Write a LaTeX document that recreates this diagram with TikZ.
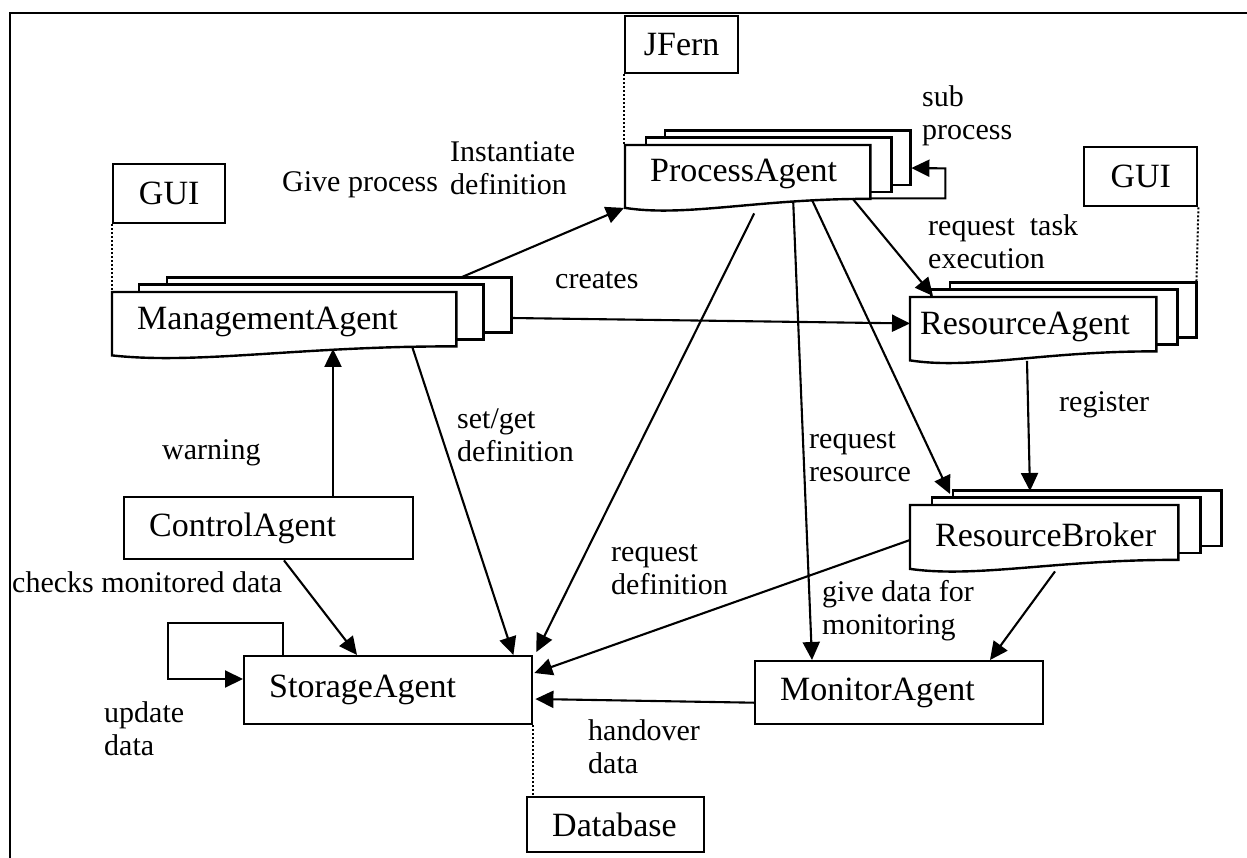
\documentclass[tikz,border=0pt]{standalone}
\usepackage{fontspec}
\setmainfont{Liberation Serif}
\usetikzlibrary{arrows.meta,calc,backgrounds}
\newcommand\nfont{\fontsize{34}{38}\selectfont}
\newcommand\lfont{\fontsize{30}{33}\selectfont}
\tikzset{
  boxline/.style={line width=2.4pt, line join=miter},
  agent/.style={anchor=north west, inner xsep=25pt, inner ysep=0pt, align=left, font=\nfont},
  plainbox/.style={agent, draw, boxline},
  cbox/.style={anchor=north west, draw, boxline, inner sep=0pt, align=center, font=\nfont},
  lbl/.style={anchor=west, align=left, font=\lfont, inner sep=0pt},
  arr/.style={line width=2.1pt, -{Triangle[length=18pt,width=17pt]}},
  dots/.style={line width=2pt, dotted},
}
\newcommand\docstack[3]{%
  \draw[boxline,fill=white] ($(#1.north west)+(#3,-14.5)$) rectangle ($(#1.south east)+(#3,-18.5)$);
  \draw[boxline,fill=white] ($(#1.north west)+(#2,-7.5)$) rectangle ($(#1.south east)+(#2,-11.5)$);
  \draw[boxline,fill=white] (#1.north west) -- (#1.north east) -- ($(#1.south east)+(0,-4.5)$)
    .. controls ($(#1.south west)!0.55!(#1.south east)+(0,-5)$) and ($(#1.south west)!0.25!(#1.south east)+(0,14)$) .. ($(#1.south west)+(0,4.5)$) -- cycle;
}
\begin{document}
\begin{tikzpicture}[x=1pt,y=-1pt]
\useasboundingbox (0,0) rectangle (1247,858);
\draw[line width=2.2pt] (1247,13) -- (10,13) -- (10,858);

% agents with stacked document shapes
\node[agent, minimum height=58.5pt, text width=294pt] (MA) at (112,292) {ManagementAgent};
\node[agent, minimum height=58pt, text width=195pt] (PA) at (625,145) {ProcessAgent};
\node[agent, inner xsep=10pt, minimum height=58.5pt, text width=226pt] (RA) at (910,297) {ResourceAgent};
\node[agent, minimum height=59pt, text width=218pt] (RB) at (910,505) {ResourceBroker};
\begin{pgfonlayer}{background}
  \docstack{MA}{27}{55}
  \docstack{PA}{21}{40}
  \docstack{RA}{21}{40}
  \docstack{RB}{22}{43}
\end{pgfonlayer}

% plain agents
\node[plainbox, minimum height=62pt, text width=239pt] (CA) at (123,496) {ControlAgent};
\node[plainbox, minimum height=68pt, text width=238pt] (SA) at (243,655) {StorageAgent};
\node[plainbox, minimum height=63pt, text width=238pt] (MoA) at (754,660) {MonitorAgent};
\node[plainbox, minimum height=55pt, text width=127pt] (DB) at (526,796) {Database};
\node[cbox, minimum width=112pt, minimum height=59pt] (G1) at (112,163) {GUI};
\node[cbox, minimum width=113pt, minimum height=59pt] (G2) at (1083,146) {GUI};
\node[cbox, minimum width=113pt, minimum height=57pt] (JF) at (624,15) {JFern};

% dotted attachments
\draw[dots] (JF.south west) -- (JF.south west |- PA.north);
\draw[dots] (G1.south west) -- (G1.south west |- MA.north);
\draw[dots] (G2.south east) -- ($(RA.north east)+(40,-14)$);
\draw[dots] (SA.south east) -- (SA.south east |- DB.north);

% connectors
\draw[arr] ($(MA.north west)+(350,-15)$) -- ($(PA.south west)+(-1,4.5)$);
\draw[arr] ($(MA.north east)+(55,26)$) -- ($(RA.west)+(0,-3)$);
\draw[arr] ($(PA.south east)+(-18,-5)$) -- ($(RA.north west)+(23,-1)$);
\draw[arr] ($(PA.south)+(64.5,-3)$) -- ($(RB.north west)+(40,-11)$);
\draw[arr] ($(PA.south)+(45.5,-2)$) -- ($(MoA.north west)+(58,0)$);
\draw[arr] ($(PA.south)+(6.5,10)$) -- ($(SA.north east)+(3,-3)$);
\draw[arr] ($(MA.south east)+(-44,-3.5)$) -- ($(SA.north east)+(-20,0)$);
\draw[arr] ($(CA.north west)+(210,0)$) -- ($(MA.south west)+(221,-2)$);
\draw[arr] ($(CA.south west)+(161,0)$) -- ($(SA.north west)+(114,0)$);
\draw[arr] ($(SA.north west)+(40,0)$) -- ++(0,-32) -- ++(-115,0) -- ++(0,56) -- ($(SA.north west)+(0,24)$);
\draw[arr] ($(RB.north west)+(0,35)$) -- ($(SA.north east)+(1,18)$);
\draw[arr] ($(MoA.west)+(0,10)$) -- ($(SA.north east)+(2,44)$);
\draw[arr] ($(RA.south west)+(117,5)$) -- ($(RB.north west)+(120,-14)$);
\draw[arr] ($(RB.south west)+(145,7)$) -- ($(MoA.north west)+(236,0)$);
\draw[arr] ($(PA.south east)+(0,-5)$) -- ++(75,0) -- ++(0,-30) -- ($(PA.north east)+(41,23)$);

% labels
\node[lbl] (l1) at (282,185) {Give process};
\node[lbl] (l2) at (450,168.5) {Instantiate\\definition};
\node[lbl] (l3) at (922,116) {sub\\process};
\node[lbl] (l4) at (555,280) {creates};
\node[lbl] (l5) at (928,241.5) {request~~task\\execution};
\node[lbl] (l6) at (162,453) {warning};
\node[lbl] (l7) at (457,435) {set/get\\definition};
\node[lbl] (l8) at (1059,405) {register};
\node[lbl] (l9) at (809,456.5) {request\\resource};
\node[lbl] (l10) at (611,570) {request\\definition};
\node[lbl] (l11) at (822,610.5) {give data for\\monitoring};
\node[lbl] (l12) at (12,582) {checks monitored data};
\node[lbl] (l13) at (104,729) {update\\data};
\node[lbl] (l14) at (588,746.5) {handover\\data};
\end{tikzpicture}
\end{document}
